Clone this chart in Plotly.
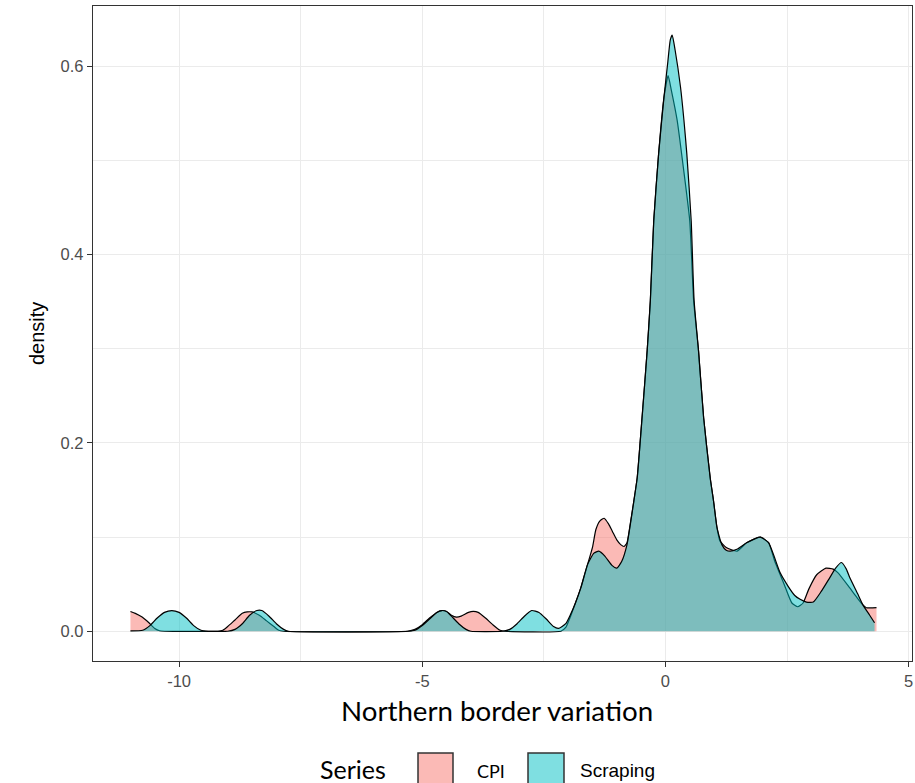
import plotly.graph_objects as go

# ---------------- data ----------------
cpi_x = [-11.0, -10.9, -10.76, -10.62, -10.5, -10.4, -10.3,
         -9.2, -9.1, -9.0, -8.85, -8.7, -8.6, -8.5, -8.35, -8.2, -8.05, -7.95, -7.85,
         -5.3, -5.15, -5.0, -4.85, -4.7, -4.6, -4.5, -4.4, -4.3, -4.2, -4.05, -3.95, -3.85, -3.7, -3.55, -3.4, -3.3,
         -2.15, -2.05, -1.95, -1.85, -1.74, -1.6, -1.5, -1.43, -1.35, -1.26, -1.17, -1.09, -1.0, -0.92, -0.85,
         -0.79, -0.72, -0.65, -0.58, -0.48, -0.375, -0.31, -0.24, -0.14, -0.03, 0.055, 0.12, 0.24, 0.35, 0.5,
         0.58, 0.68, 0.785, 0.92, 0.99, 1.06, 1.12, 1.25, 1.47, 1.67, 1.95, 2.12, 2.25, 2.44, 2.6, 2.72,
         2.83, 2.95, 3.11, 3.3, 3.45, 3.55, 3.79, 3.95, 4.06, 4.13, 4.34]
cpi_y = [0.021, 0.019, 0.015, 0.009, 0.003, 0.0005, 0.0,
         0.0, 0.001, 0.005, 0.012, 0.019, 0.0205, 0.0205, 0.017, 0.011, 0.005, 0.001, 0.0,
         0.0, 0.002, 0.007, 0.014, 0.020, 0.022, 0.021, 0.017, 0.015, 0.016, 0.020, 0.021, 0.020, 0.014, 0.007, 0.001, 0.0,
         0.0, 0.004, 0.016, 0.030, 0.046, 0.071, 0.089, 0.108, 0.117, 0.120, 0.114, 0.106, 0.097, 0.092, 0.090,
         0.094, 0.115, 0.138, 0.163, 0.227, 0.298, 0.351, 0.436, 0.507, 0.567, 0.590, 0.575, 0.543, 0.50, 0.436,
         0.351, 0.298, 0.227, 0.163, 0.138, 0.110, 0.096, 0.089, 0.085, 0.094, 0.100, 0.094, 0.074, 0.050, 0.030, 0.026,
         0.030, 0.045, 0.060, 0.067, 0.066, 0.062, 0.046, 0.035, 0.028, 0.025, 0.025]

scr_x = [-11.0, -10.75, -10.6, -10.45, -10.3, -10.15, -10.0, -9.85, -9.7, -9.55, -9.4,
         -9.0, -8.85, -8.7, -8.55, -8.4, -8.3, -8.15, -8.0, -7.85, -7.75,
         -5.3, -5.15, -5.0, -4.85, -4.7, -4.6, -4.5, -4.4, -4.25, -4.1, -4.0,
         -3.35, -3.2, -3.05, -2.9, -2.75, -2.6, -2.45, -2.3, -2.2, -2.05, -1.95, -1.85, -1.74, -1.6, -1.47,
         -1.37, -1.25, -1.1, -1.0, -0.9, -0.79, -0.65, -0.58, -0.48, -0.375, -0.31, -0.24, -0.14, -0.03,
         0.05, 0.1, 0.14, 0.2, 0.31, 0.38, 0.44, 0.53, 0.59, 0.68, 0.785, 0.92, 0.99, 1.06, 1.16, 1.25,
         1.33, 1.47, 1.67, 1.95, 2.12, 2.36, 2.52, 2.66, 2.77, 2.9, 3.04, 3.2, 3.38, 3.5, 3.62, 3.72,
         3.79, 3.95, 4.06, 4.2, 4.3]
scr_y = [0.0003, 0.001, 0.006, 0.014, 0.020, 0.022, 0.020, 0.014, 0.006, 0.001, 0.0,
         0.0, 0.002, 0.008, 0.017, 0.022, 0.022, 0.016, 0.008, 0.002, 0.0,
         0.0, 0.001, 0.006, 0.013, 0.020, 0.022, 0.021, 0.016, 0.008, 0.002, 0.0,
         0.0, 0.002, 0.008, 0.016, 0.022, 0.020, 0.013, 0.005, 0.003, 0.008, 0.018, 0.030, 0.046, 0.071, 0.083,
         0.085, 0.080, 0.070, 0.067, 0.074, 0.092, 0.138, 0.163, 0.227, 0.298, 0.351, 0.436, 0.507, 0.567,
         0.605, 0.628, 0.633, 0.617, 0.578, 0.543, 0.507, 0.436, 0.351, 0.298, 0.227, 0.163, 0.138, 0.110, 0.092, 0.086,
         0.085, 0.087, 0.094, 0.100, 0.094, 0.062, 0.048, 0.038, 0.034, 0.031, 0.031, 0.042, 0.057, 0.067, 0.073, 0.066,
         0.057, 0.040, 0.028, 0.017, 0.009]

series_names = ["CPI", "Scraping"]
x_ticks = [-10, -5, 0, 5]
x_ticktext = ["-10", "-5", "0", "5"]
y_ticks = [0.0, 0.2, 0.4, 0.6]
y_ticktext = ["0.0", "0.2", "0.4", "0.6"]
x_title = "Northern border variation"
y_title = "density"
legend_title = "Series"

# ---------------- styling ----------------
fills = ["rgba(248,118,109,0.5)", "rgba(0,191,196,0.5)"]
W, H = 915, 783
L, R, T, B = 93, 912, 6, 661  # plot area in pixels


def px(xp):
    return (xp - L) / (R - L)


def py(yp):
    return (B - yp) / (B - T)


fig = go.Figure()
for name, xs, ys, fc in [(series_names[0], cpi_x, cpi_y, fills[0]),
                         (series_names[1], scr_x, scr_y, fills[1])]:
    fig.add_trace(go.Scatter(
        x=xs, y=ys, name=name, mode="lines", fill="tozeroy",
        fillcolor=fc, line=dict(color="black", width=1.2, shape="spline", smoothing=0.5),
        showlegend=False, hoverinfo="skip"))

axis_common = dict(
    showline=True, mirror=True, linecolor="#333333", linewidth=1.3,
    ticks="outside", ticklen=5, tickcolor="#333333", tickwidth=1.2,
    showgrid=True, gridcolor="#EBEBEB", gridwidth=1.2, zeroline=False,
    tickfont=dict(family="Liberation Sans, Arial", size=16.5, color="#4D4D4D"),
)

fig.update_layout(
    width=W, height=H,
    margin=dict(l=L, r=W - R, t=T, b=H - B, autoexpand=False),
    paper_bgcolor="white", plot_bgcolor="white",
    xaxis=dict(range=[-11.77, 5.07], tickvals=x_ticks, ticktext=x_ticktext,
               minor=dict(tickvals=[-7.5, -2.5, 2.5], showgrid=True, gridcolor="#EBEBEB", gridwidth=1, ticks=""),
               **axis_common),
    yaxis=dict(range=[-0.0316, 0.664], tickvals=y_ticks, ticktext=y_ticktext,
               minor=dict(tickvals=[0.1, 0.3, 0.5], showgrid=True, gridcolor="#EBEBEB", gridwidth=1, ticks=""),
               **axis_common),
    showlegend=False,
)

annotations = [
    dict(text=x_title, x=px(497), y=py(711), xref="paper", yref="paper", showarrow=False,
         font=dict(family="Lato", size=27.7, color="black"), xanchor="center", yanchor="middle"),
    dict(text=y_title, x=px(37), y=py(333), xref="paper", yref="paper", showarrow=False, textangle=-90,
         font=dict(family="Liberation Sans, Arial", size=20, color="black"), xanchor="center", yanchor="middle"),
    dict(text=legend_title, x=px(353), y=py(769), xref="paper", yref="paper", showarrow=False,
         font=dict(family="Lato", size=25, color="black"), xanchor="center", yanchor="middle"),
    dict(text=series_names[0], x=px(491), y=py(771), xref="paper", yref="paper", showarrow=False,
         font=dict(family="Lato", size=18, color="black"), xanchor="center", yanchor="middle"),
    dict(text=series_names[1], x=px(617), y=py(770), xref="paper", yref="paper", showarrow=False,
         font=dict(family="Liberation Sans, Arial", size=19, color="black"), xanchor="center", yanchor="middle"),
]
fig.update_layout(annotations=annotations)

shapes = []
for (x0, x1), fc in zip([(418, 453), (528, 564)], fills):
    shapes.append(dict(type="rect", xref="paper", yref="paper",
                       x0=px(x0), x1=px(x1), y0=py(753), y1=py(800),
                       fillcolor=fc, line=dict(color="#333333", width=1.5)))
fig.update_layout(shapes=shapes)

fig.write_html("out.html", config={"displayModeBar": False},
               post_script="document.body.style.margin='0px';document.body.style.overflow='hidden';")
